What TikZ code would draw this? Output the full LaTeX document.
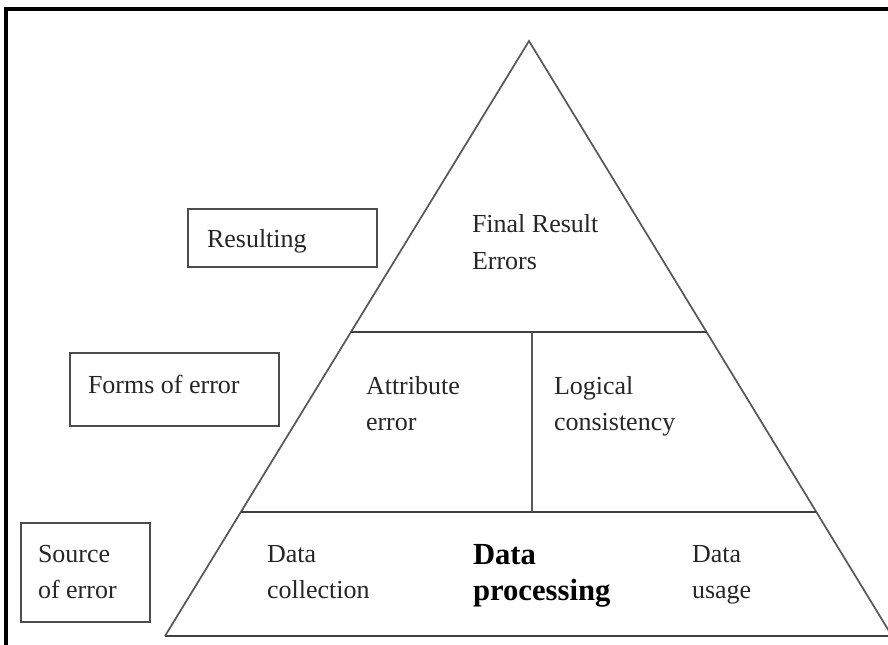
\documentclass[tikz,border=0pt]{standalone}
\usepackage{fontspec}
\setmainfont{Liberation Serif}
\usetikzlibrary{calc}
\begin{document}
\begin{tikzpicture}[x=0.75pt,y=-0.75pt,
  every node/.style={inner sep=0pt, outer sep=0pt},
  txt/.style={anchor=base west, align=left, text=black!85,
    font=\fontsize{19.5}{26.5}\selectfont},
  boldtxt/.style={txt, font=\fontsize{23}{27}\selectfont\bfseries, text=black},
  sidebox/.style={draw=black!70, line width=1.6pt, anchor=north west},
  edge/.style={draw=black!65, line width=1.3pt, line join=miter},
  divider/.style={draw=black!75, line width=1.7pt}]
\useasboundingbox (0,0) rectangle (888,644);

% outer frame
\draw[line width=2.4pt] (6,660) -- (6,9) -- (900,9);

% pyramid corners and the two level lines
\coordinate (apex) at (529,41);
\coordinate (bl) at (165,636);
\coordinate (br) at (892,636);
\coordinate (l1) at ($(apex)!0.489!(bl)$);
\coordinate (r1) at ($(apex)!0.489!(br)$);
\coordinate (l2) at ($(apex)!0.7916!(bl)$);
\coordinate (r2) at ($(apex)!0.7916!(br)$);
\coordinate (vtop) at (532,332);
\coordinate (vbot) at (532,512);

\draw[edge] (bl) -- (apex) -- (br);
\draw[divider] (bl) -- (br);
\draw[divider] (l1) -- (r1);
\draw[divider] (l2) -- (r2);
\draw[edge] (vtop) -- (vbot);

% side boxes
\node[sidebox, minimum width=141.75pt, minimum height=43.5pt] (boxres) at (188,209) {};
\node[sidebox, minimum width=156.75pt, minimum height=54.75pt] (boxform) at (70,353) {};
\node[sidebox, minimum width=96.75pt, minimum height=74.25pt] (boxsrc) at (21,523) {};

% labels (multi-line nodes are placed at the baseline of their last line)
\node[txt] (res) at (207,247) {Resulting};
\node[txt] (form) at (88,393) {Forms of error};
\node[txt] (src) at (38,598) {Source\\of error};

% pyramid labels
\node[txt, font=\fontsize{19.5}{27.75}\selectfont] (final) at (472,269) {Final Result\\Errors};
\node[txt] (attr) at (366,430) {Attribute\\error};
\node[txt] (logic) at (554,430) {Logical\\consistency};
\node[txt] (coll) at (267,598) {Data\\collection};
\node[boldtxt] (proc) at (473,600) {Data\\processing};
\node[txt] (usage) at (692,598) {Data\\usage};
\end{tikzpicture}
\end{document}
